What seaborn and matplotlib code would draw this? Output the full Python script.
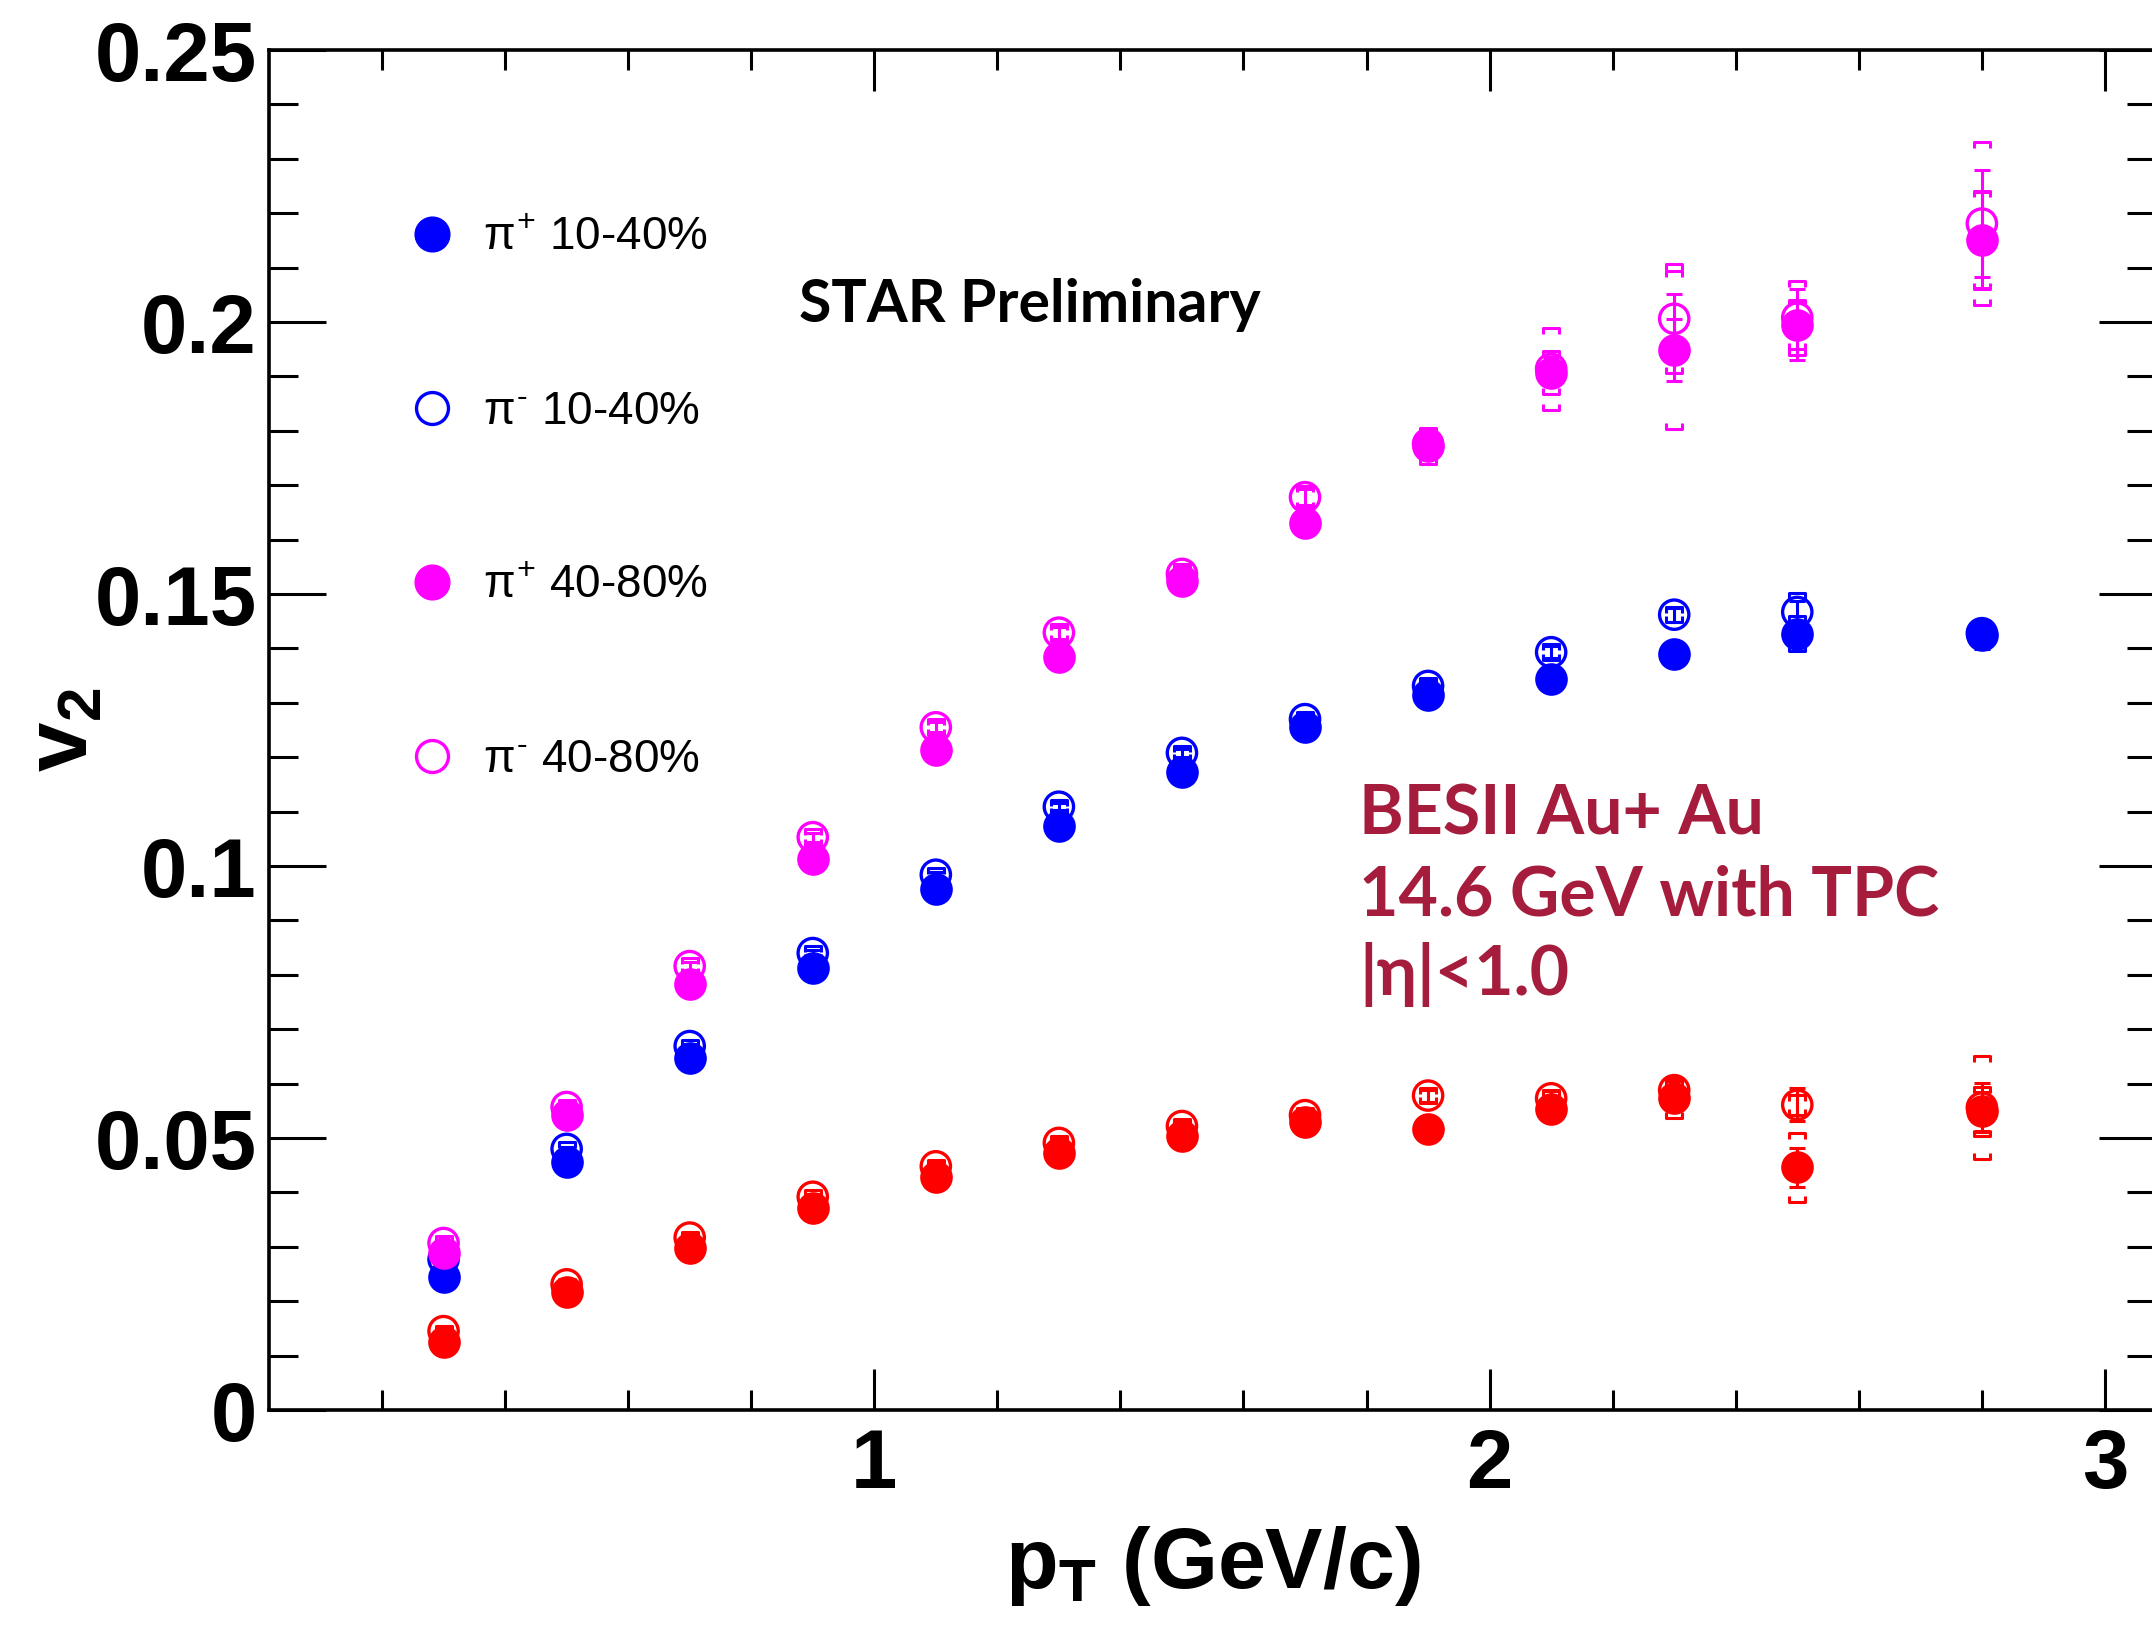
import numpy as np
import pandas as pd
import matplotlib
matplotlib.use("Agg")
import matplotlib.pyplot as plt
import seaborn as sns
from matplotlib.lines import Line2D
from matplotlib.ticker import MultipleLocator, FixedLocator

# ---------------- data ----------------
pt_bins = [0.3, 0.5, 0.7, 0.9, 1.1, 1.3, 1.5, 1.7, 1.9, 2.1, 2.3, 2.5, 2.8]

pip_1040 = [0.0245, 0.0456, 0.0647, 0.0813, 0.0957, 0.1074, 0.1173, 0.1255, 0.1314, 0.1344, 0.1390, 0.1427, 0.1424]
pip_1040_stat = [0.0004, 0.0004, 0.0004, 0.0005, 0.0005, 0.0006, 0.0007, 0.0008, 0.0009, 0.0011, 0.0013, 0.0020, 0.0025]
pip_1040_sys = [0.0008, 0.0008, 0.0009, 0.0010, 0.0010, 0.0011, 0.0011, 0.0013, 0.0013, 0.0015, 0.0015, 0.0032, 0.0022]

pim_1040 = [0.0277, 0.0480, 0.0669, 0.0840, 0.0984, 0.1109, 0.1208, 0.1270, 0.1331, 0.1393, 0.1462, 0.1467, 0.1428]
pim_1040_stat = [0.0004, 0.0004, 0.0004, 0.0005, 0.0005, 0.0006, 0.0007, 0.0008, 0.0009, 0.0011, 0.0013, 0.0020, 0.0025]
pim_1040_sys = [0.0010, 0.0012, 0.0012, 0.0013, 0.0013, 0.0013, 0.0013, 0.0014, 0.0014, 0.0015, 0.0014, 0.0035, 0.0022]

pip_4080 = [0.0289, 0.0542, 0.0784, 0.1012, 0.1213, 0.1384, 0.1523, 0.1631, 0.1772, 0.1907, 0.1949, 0.1995, 0.2151]
pip_4080_stat = [0.0005, 0.0006, 0.0007, 0.0008, 0.0009, 0.0011, 0.0013, 0.0015, 0.0018, 0.0022, 0.0057, 0.0065, 0.0088]
pip_4080_sys = [0.0010, 0.0012, 0.0013, 0.0014, 0.0015, 0.0016, 0.0018, 0.0020, 0.0033, 0.0040, 0.0145, 0.0045, 0.0090]

pim_4080 = [0.0307, 0.0557, 0.0816, 0.1053, 0.1255, 0.1429, 0.1537, 0.1678, 0.1776, 0.1914, 0.2006, 0.2008, 0.2181]
pim_4080_stat = [0.0005, 0.0006, 0.0007, 0.0008, 0.0009, 0.0011, 0.0013, 0.0015, 0.0018, 0.0022, 0.0045, 0.0030, 0.0099]
pim_4080_sys = [0.0012, 0.0013, 0.0014, 0.0015, 0.0015, 0.0016, 0.0018, 0.0020, 0.0022, 0.0075, 0.0100, 0.0068, 0.0150]

red_filled = [0.0125, 0.0216, 0.0297, 0.0372, 0.0428, 0.0473, 0.0503, 0.0529, 0.0517, 0.0553, 0.0573, 0.0446, 0.0549]
red_filled_stat = [0.0004, 0.0004, 0.0005, 0.0005, 0.0006, 0.0007, 0.0008, 0.0009, 0.0011, 0.0013, 0.0016, 0.0036, 0.0036]
red_filled_sys = [0.0008, 0.0008, 0.0009, 0.0010, 0.0011, 0.0012, 0.0013, 0.0014, 0.0015, 0.0016, 0.0037, 0.0063, 0.0045]

red_open = [0.0145, 0.0231, 0.0317, 0.0392, 0.0448, 0.0491, 0.0522, 0.0542, 0.0578, 0.0573, 0.0588, 0.0561, 0.0556]
red_open_stat = [0.0004, 0.0004, 0.0005, 0.0005, 0.0006, 0.0007, 0.0008, 0.0009, 0.0011, 0.0013, 0.0024, 0.0030, 0.0045]
red_open_sys = [0.0010, 0.0010, 0.0011, 0.0012, 0.0012, 0.0013, 0.0013, 0.0014, 0.0014, 0.0015, 0.0016, 0.0018, 0.0095]

legend_labels = [r"$\pi^{+}$ 10-40%", r"$\pi^{\text{-}}$ 10-40%",
                 r"$\pi^{+}$ 40-80%", r"$\pi^{\text{-}}$ 40-80%"]
x_ticks = [1, 2, 3]
x_tick_labels = ["1", "2", "3"]
y_ticks = [0, 0.05, 0.1, 0.15, 0.2, 0.25]
y_tick_labels = ["0", "0.05", "0.1", "0.15", "0.2", "0.25"]

# ---------------- style ----------------
sns.set_theme(style="ticks")
plt.rcParams["font.family"] = ["Liberation Sans", "DejaVu Sans"]
plt.rcParams["mathtext.fontset"] = "custom"
plt.rcParams["mathtext.rm"] = "Liberation Sans"
plt.rcParams["mathtext.it"] = "Liberation Sans"
plt.rcParams["mathtext.sf"] = "Liberation Sans"
plt.rcParams["mathtext.bf"] = "Liberation Sans:bold"
for key in ["text.color", "axes.labelcolor", "xtick.color", "ytick.color", "axes.edgecolor"]:
    plt.rcParams[key] = "black"

W, H = 2152, 1635
fig = plt.figure(figsize=(W / 100, H / 100), dpi=100)
fig.patch.set_facecolor("white")
ax_l, ax_r, ax_t, ax_b = 269, 2156, 50, 1410
ax = fig.add_axes([ax_l / W, 1 - ax_b / H, (ax_r - ax_l) / W, (ax_b - ax_t) / H])
ax.set_facecolor("white")

BLUE = "#0000ff"
MAG = "#ff00ff"
RED = "#ff0000"

top_br = [(-1, -0.75), (-1, 0), (1, 0), (1, -0.75)]
bot_br = [(-1, 0.75), (-1, 0), (1, 0), (1, 0.75)]

MS = 23.5
series = [
    (red_open, red_open_stat, red_open_sys, RED, False, 2.0),
    (red_filled, red_filled_stat, red_filled_sys, RED, True, 2.5),
    (pim_1040, pim_1040_stat, pim_1040_sys, BLUE, False, 3.0),
    (pip_1040, pip_1040_stat, pip_1040_sys, BLUE, True, 3.5),
    (pim_4080, pim_4080_stat, pim_4080_sys, MAG, False, 4.0),
    (pip_4080, pip_4080_stat, pip_4080_sys, MAG, True, 4.5),
]

for vals, stat, sys_, col, filled, z in series:
    df = pd.DataFrame({"pt": pt_bins, "v2": vals, "stat": stat, "sys": sys_})
    # systematic brackets
    ax.plot(df["pt"], df["v2"] + df["sys"], ls="none", marker=top_br, ms=11,
            mfc="none", mec=col, mew=2.2, zorder=z)
    ax.plot(df["pt"], df["v2"] - df["sys"], ls="none", marker=bot_br, ms=11,
            mfc="none", mec=col, mew=2.2, zorder=z)
    # statistical errors
    ax.errorbar(df["pt"], df["v2"], yerr=df["stat"], fmt="none", ecolor=col,
                elinewidth=2.2, capsize=5.5, capthick=2.2, zorder=z + 0.1)
    if filled:
        sns.scatterplot(data=df, x="pt", y="v2", ax=ax, marker="o", s=MS ** 2,
                        color=col, edgecolor=col, linewidth=0, zorder=z + 0.2, legend=False)
    else:
        sns.scatterplot(data=df, x="pt", y="v2", ax=ax, marker="o", s=(MS - 2.4) ** 2,
                        facecolor="none", edgecolor=col, linewidth=2.4, zorder=z + 0.2, legend=False)

# ---------------- axes ----------------
ax.set_xlim(0.0163, 3.083)
ax.set_ylim(0, 0.25)
ax.xaxis.set_major_locator(FixedLocator(x_ticks))
ax.xaxis.set_minor_locator(MultipleLocator(0.2))
ax.yaxis.set_major_locator(FixedLocator(y_ticks))
ax.yaxis.set_minor_locator(MultipleLocator(0.01))
ax.set_xticklabels(x_tick_labels)
ax.set_yticklabels(y_tick_labels)

for sp in ax.spines.values():
    sp.set_linewidth(2.6)
    sp.set_color("black")

ax.tick_params(axis="both", which="both", direction="in", top=True, right=True,
               color="black", labelcolor="black", width=2.2)
ax.tick_params(axis="x", which="major", length=29.5, pad=12, labelsize=60)
ax.tick_params(axis="x", which="minor", length=14.5)
ax.tick_params(axis="y", which="major", length=41, pad=9, labelsize=60)
ax.tick_params(axis="y", which="minor", length=21)
for lab in ax.get_xticklabels() + ax.get_yticklabels():
    lab.set_fontweight("bold")

ax.set_xlabel(r"$\mathbf{p_{T}}$ (GeV/c)", fontsize=62, fontweight="bold", color="black")
ax.set_ylabel(r"$\mathbf{v_{2}}$", fontsize=64, fontweight="bold", color="black")
ax.xaxis.set_label_coords(0.5, -0.084)
ax.yaxis.set_label_coords(-0.086, 0.5)

# ---------------- legend ----------------
handles = [
    Line2D([], [], ls="none", marker="o", ms=25, color=BLUE, mfc=BLUE, mec=BLUE),
    Line2D([], [], ls="none", marker="o", ms=23, color=BLUE, mfc="none", mec=BLUE, mew=2.4),
    Line2D([], [], ls="none", marker="o", ms=25, color=MAG, mfc=MAG, mec=MAG),
    Line2D([], [], ls="none", marker="o", ms=23, color=MAG, mfc="none", mec=MAG, mew=2.4),
]
leg = ax.legend(handles, legend_labels, loc="upper left",
                bbox_to_anchor=(409 / W, 1 - 216 / H), bbox_transform=fig.transFigure,
                frameon=False, fontsize=33, handlelength=1.0, handletextpad=0.62,
                labelspacing=2.84, borderpad=0, borderaxespad=0)
for t in leg.get_texts():
    t.set_color("black")

# ---------------- annotations ----------------
fig.text(799 / W, 1 - 322 / H, "STAR Preliminary", fontsize=42.5, fontweight="bold",
         family=["Lato", "DejaVu Sans"], ha="left", va="baseline", color="black")
DARKRED = "#a51c3c"
for txt, base in [("BESII Au+ Au", 834), ("14.6 GeV with TPC", 915), ("|η|<1.0", 995)]:
    fig.text(1359 / W, 1 - base / H, txt, fontsize=49, fontweight="bold",
             family=["Lato", "Noto Sans", "DejaVu Sans"], ha="left", va="baseline",
             color=DARKRED)

fig.savefig("out.png", dpi=100)
